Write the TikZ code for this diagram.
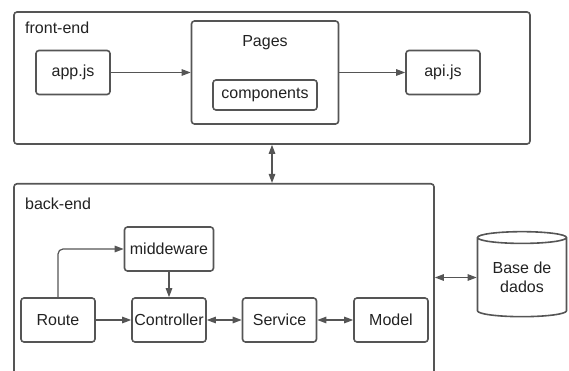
\documentclass[tikz,border=0pt]{standalone}
\usepackage{fontspec}
\setmainfont{Liberation Sans}
\usetikzlibrary{shapes.geometric,arrows.meta,positioning}

\definecolor{linha}{HTML}{555555}
\definecolor{texto}{HTML}{222222}

\tikzset{
  caixa/.style={rectangle, draw=linha, line width=1.6pt, rounded corners=3pt,
    minimum width=74pt, minimum height=44pt, inner sep=0pt, text=texto,
    font=\fontsize{16}{19}\selectfont},
  rotulo/.style={inner sep=0pt, anchor=west, text=texto, font=\fontsize{16}{19}\selectfont},
  seta/.style={draw=linha, line width=1.2pt, -{Triangle[length=9pt,width=6.5pt]}},
  dupla/.style={seta, {Triangle[length=9pt,width=6.5pt]}-{Triangle[length=9pt,width=6.5pt]}}
}

\begin{document}
\begin{tikzpicture}[x=1pt, y=-1pt]
\clip (0,0) rectangle (569,371);

% front-end
\node[caixa, minimum width=516pt, minimum height=132pt] (front) at (272,78) {};
\node[rotulo] (frontlbl) at (25,28) {front-end};
\node[caixa] (app) at (73,72.5) {app.js};
\node[caixa, minimum width=147pt, minimum height=103pt] (pages) at (265,72.5) {};
\node[rotulo, anchor=center] (pageslbl) at (265,43) {Pages};
\node[caixa, minimum width=104pt, minimum height=30pt] (comp) at (265,95) {components};
\node[caixa] (api) at (443,72.5) {api.js};

\draw[seta] (app) -- (pages);
\draw[seta] (pages) -- (api);

% back-end
\node[caixa, minimum width=420pt, minimum height=230pt, anchor=north] (back) at (224,183) {};
\node[rotulo] (backlbl) at (25,204) {back-end};
\node[caixa, minimum width=89pt] (mid) at (169,249) {middeware};
\node[caixa] (route) at (58,320) {Route};
\node[caixa] (ctrl) at (169,320) {Controller};
\node[caixa] (serv) at (279.5,320) {Service};
\node[caixa] (model) at (391,320) {Model};

\draw[seta, rounded corners=5pt] (route) |- (mid);
\draw[seta] (mid) -- (ctrl);
\draw[seta] (route) -- (ctrl);
\draw[dupla] (ctrl) -- (serv);
\draw[dupla] (serv) -- (model);

% banco
\node[cylinder, shape border rotate=90, draw=linha, line width=1.6pt, aspect=0.2,
  inner sep=0pt, minimum width=89pt, minimum height=85pt, align=center, text=texto,
  font=\fontsize{16}{19}\selectfont] (db) at (522,277.5) {Base de\\dados};

\draw[dupla] (front.south) -- (front.south |- back.north);
\draw[dupla] (back.east |- db.west) -- (db.west);
\end{tikzpicture}
\end{document}
